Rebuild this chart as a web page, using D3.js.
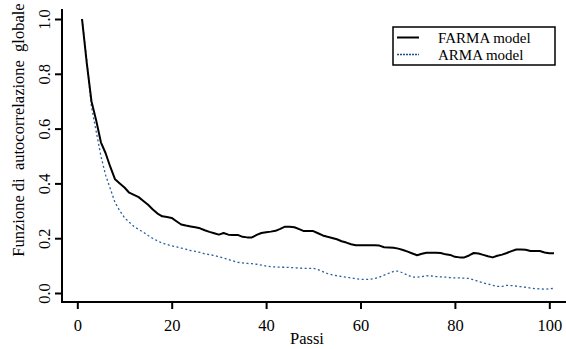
<!DOCTYPE html>
<html>
<head>
<meta charset="utf-8">
<script src="https://cdn.jsdelivr.net/npm/d3@7"></script>
<style>
  html, body { margin: 0; padding: 0; background: #fff; }
  #chart { width: 566px; height: 349px; }
</style>
</head>
<body>
<div id="chart"></div>
<script>
// lags 1..101
const lags = d3.range(1, 102);

const farma = [
  1.000, 0.840, 0.700, 0.630, 0.550, 0.510, 0.460, 0.415, 0.400, 0.385,
  0.366, 0.358, 0.350, 0.336, 0.322, 0.305, 0.290, 0.280, 0.277, 0.274,
  0.262, 0.250, 0.246, 0.243, 0.240, 0.236, 0.229, 0.223, 0.218, 0.213,
  0.219, 0.213, 0.212, 0.212, 0.205, 0.203, 0.203, 0.212, 0.219, 0.222,
  0.224, 0.227, 0.234, 0.242, 0.242, 0.240, 0.233, 0.226, 0.226, 0.226,
  0.218, 0.210, 0.205, 0.201, 0.196, 0.189, 0.184, 0.178, 0.174, 0.174,
  0.174, 0.174, 0.174, 0.173, 0.167, 0.166, 0.165, 0.162, 0.157, 0.151,
  0.144, 0.138, 0.143, 0.147, 0.147, 0.147, 0.146, 0.141, 0.139, 0.132,
  0.130, 0.130, 0.137, 0.146, 0.144, 0.139, 0.134, 0.130, 0.136, 0.140,
  0.146, 0.153, 0.159, 0.159, 0.158, 0.153, 0.153, 0.153, 0.148, 0.145,
  0.145
];

const arma = [
  1.000, 0.850, 0.680, 0.590, 0.500, 0.430, 0.380, 0.330, 0.300, 0.275,
  0.258, 0.243, 0.232, 0.222, 0.210, 0.199, 0.190, 0.182, 0.177, 0.172,
  0.168, 0.164, 0.160, 0.155, 0.152, 0.148, 0.143, 0.140, 0.137, 0.132,
  0.128, 0.122, 0.117, 0.112, 0.110, 0.108, 0.107, 0.105, 0.102, 0.098,
  0.096, 0.095, 0.094, 0.094, 0.093, 0.092, 0.091, 0.090, 0.090, 0.090,
  0.085, 0.078, 0.071, 0.066, 0.063, 0.060, 0.058, 0.055, 0.052, 0.050,
  0.050, 0.050, 0.053, 0.058, 0.065, 0.072, 0.079, 0.080, 0.073, 0.065,
  0.058, 0.058, 0.060, 0.063, 0.062, 0.060, 0.059, 0.058, 0.056, 0.055,
  0.055, 0.054, 0.053, 0.048, 0.042, 0.037, 0.033, 0.028, 0.024, 0.024,
  0.028, 0.027, 0.025, 0.023, 0.021, 0.018, 0.016, 0.015, 0.014, 0.015,
  0.017
];

const xTicks = [0, 20, 40, 60, 80, 100];
const yTicks = [0.0, 0.2, 0.4, 0.6, 0.8, 1.0];
const seriesNames = ["FARMA model", "ARMA model"];

const width = 566;
const height = 349;
const box = { left: 62, right: 566, top: 9, bottom: 302 };
const serif = '"Liberation Serif", "Times New Roman", serif';

const svg = d3.select('#chart')
  .append('svg')
  .attr('width', width)
  .attr('height', height);

// scales
const x = d3.scaleLinear().domain([0, 100]).range([77.3, 549.3]);
const y = d3.scaleLinear().domain([0, 1]).range([293, 19]);

// L-shaped frame (R bty="l")
svg.append('path')
  .attr('d', `M${box.left},${box.top}V${box.bottom}H${box.right}`)
  .attr('fill', 'none')
  .attr('stroke', '#000')
  .attr('stroke-width', 2);

// x axis
const xAxis = svg.append('g')
  .attr('transform', `translate(0,${box.bottom})`)
  .call(d3.axisBottom(x).tickValues(xTicks).tickSize(7).tickPadding(10).tickFormat(d3.format('d')));
xAxis.select('.domain').remove();
xAxis.selectAll('line').attr('stroke-width', 2);
xAxis.selectAll('text')
  .style('font-family', serif)
  .style('font-size', '16.5px')
  .attr('fill', '#000');

// y axis, labels rotated like R
const yAxis = svg.append('g')
  .attr('transform', `translate(${box.left},0)`)
  .call(d3.axisLeft(y).tickValues(yTicks).tickSize(7).tickFormat(d3.format('.1f')));
yAxis.select('.domain').remove();
yAxis.selectAll('line').attr('stroke-width', 2);
yAxis.selectAll('text')
  .style('font-family', serif)
  .style('font-size', '16.5px')
  .attr('fill', '#000')
  .attr('text-anchor', 'middle')
  .attr('dy', 0)
  .attr('x', 0)
  .attr('transform', 'translate(-12,0) rotate(-90)');

// axis titles
svg.append('text')
  .attr('x', 307)
  .attr('y', 344)
  .attr('text-anchor', 'middle')
  .style('font-family', serif)
  .style('font-size', '16.5px')
  .text('Passi');

svg.append('text')
  .attr('transform', 'translate(24,130) rotate(-90)')
  .attr('text-anchor', 'middle')
  .style('font-family', serif)
  .style('font-size', '16.5px')
  .style('white-space', 'pre')
  .text('Funzione di  autocorrelazione  globale');

// lines
const line = d3.line()
  .x((d, i) => x(lags[i]))
  .y(d => y(d));

svg.append('path')
  .datum(arma)
  .attr('fill', 'none')
  .attr('stroke', '#2a5f9e')
  .attr('stroke-width', 1.3)
  .attr('stroke-dasharray', '2,2.5')
  .attr('d', line);

svg.append('path')
  .datum(farma)
  .attr('fill', 'none')
  .attr('stroke', '#000')
  .attr('stroke-width', 2)
  .attr('stroke-linejoin', 'round')
  .attr('d', line);

// legend
const legend = svg.append('g');
legend.append('rect')
  .attr('x', 393)
  .attr('y', 27)
  .attr('width', 162)
  .attr('height', 38)
  .attr('fill', '#fff')
  .attr('stroke', '#000')
  .attr('stroke-width', 1.5);

const legendStyles = [
  { stroke: '#000', width: 2, dash: null },
  { stroke: '#1f4e8c', width: 1.5, dash: '2,1' }
];

seriesNames.forEach((name, i) => {
  const ly = 37.5 + i * 17;
  legend.append('line')
    .attr('x1', 397).attr('x2', 419)
    .attr('y1', ly).attr('y2', ly)
    .attr('stroke', legendStyles[i].stroke)
    .attr('stroke-width', legendStyles[i].width)
    .attr('stroke-dasharray', legendStyles[i].dash);
  legend.append('text')
    .attr('x', 438)
    .attr('y', ly + 5)
    .style('font-family', serif)
    .style('font-size', '15px')
    .text(name);
});
</script>
</body>
</html>
